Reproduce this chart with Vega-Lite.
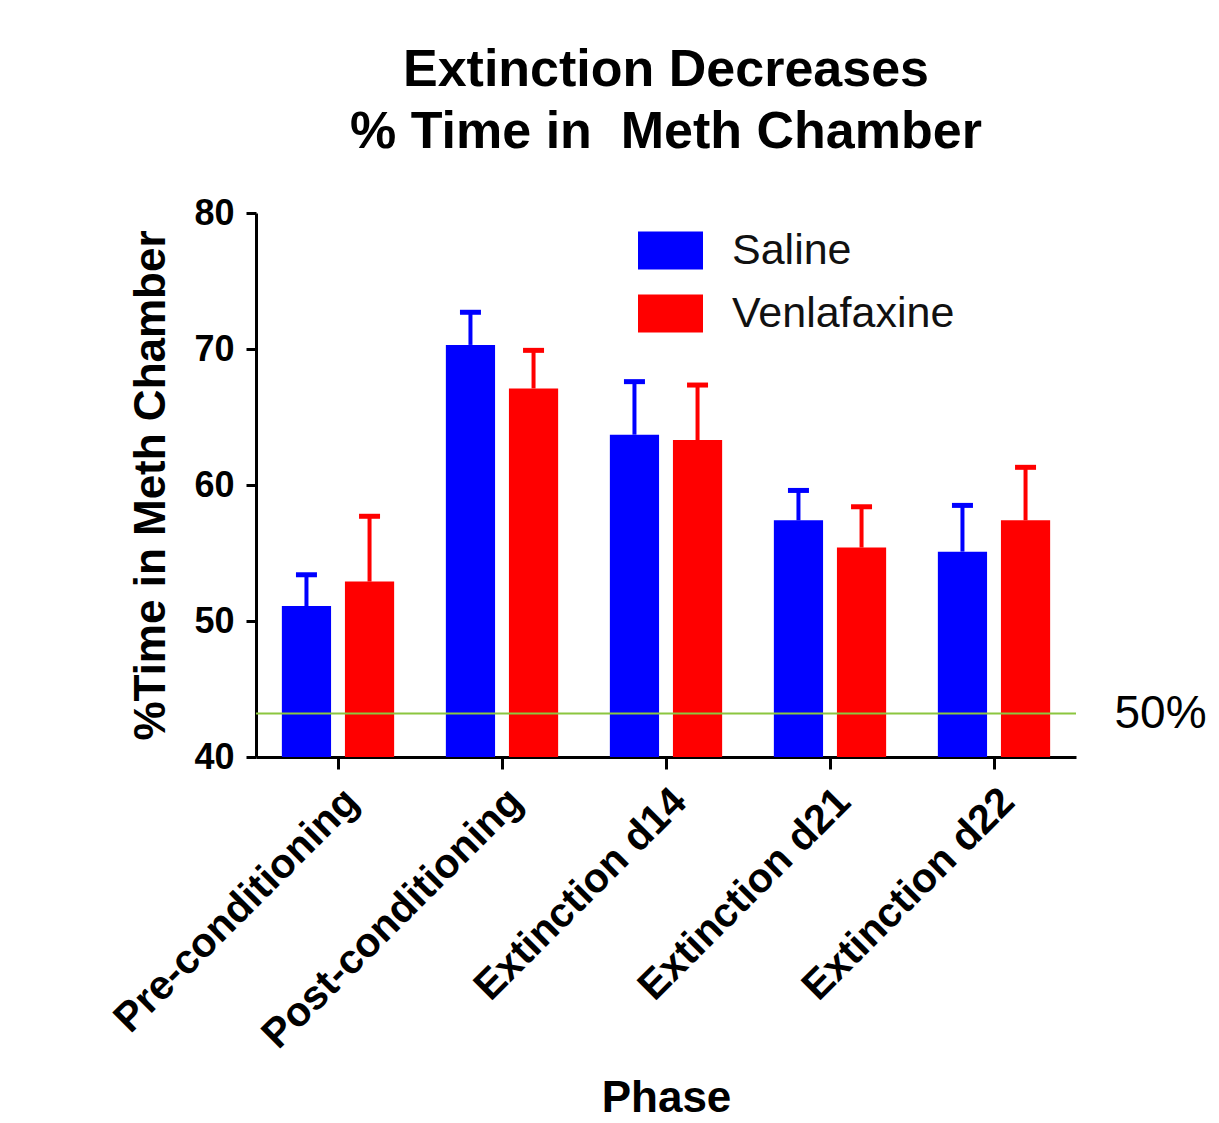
{
  "$schema": "https://vega.github.io/schema/vega-lite/v6.json",
  "width": 820,
  "height": 544,
  "autosize": "none",
  "padding": {"left": 256, "top": 213, "right": 143, "bottom": 366},
  "background": "#ffffff",
  "title": {
    "text": ["Extinction Decreases", "% Time in\u00a0 Meth Chamber"],
    "font": "Liberation Sans",
    "fontSize": 52,
    "fontWeight": "bold",
    "color": "#000000",
    "anchor": "middle",
    "frame": "group",
    "lineHeight": 62,
    "offset": 36
  },
  "config": {
    "view": {"stroke": null},
    "axis": {
      "domainColor": "#000000",
      "domainWidth": 3,
      "tickColor": "#000000",
      "tickWidth": 3,
      "labelFont": "Liberation Sans",
      "labelFontWeight": "bold",
      "labelColor": "#000000",
      "labelLimit": 0,
      "titleFont": "Liberation Sans",
      "titleFontWeight": "bold",
      "titleColor": "#000000",
      "titleFontSize": 44,
      "grid": false
    },
    "legend": {
      "labelFont": "Liberation Sans",
      "labelFontSize": 43,
      "labelColor": "#111111",
      "labelLimit": 0
    }
  },
  "layer": [
    {
      "data": {
        "values": [
          {"phase": "Pre-conditioning", "group": "Saline", "value": 51.1, "upper": 53.4},
          {"phase": "Pre-conditioning", "group": "Venlafaxine", "value": 52.9, "upper": 57.7},
          {"phase": "Post-conditioning", "group": "Saline", "value": 70.3, "upper": 72.7},
          {"phase": "Post-conditioning", "group": "Venlafaxine", "value": 67.1, "upper": 69.9},
          {"phase": "Extinction d14", "group": "Saline", "value": 63.7, "upper": 67.6},
          {"phase": "Extinction d14", "group": "Venlafaxine", "value": 63.3, "upper": 67.35},
          {"phase": "Extinction d21", "group": "Saline", "value": 57.4, "upper": 59.6},
          {"phase": "Extinction d21", "group": "Venlafaxine", "value": 55.4, "upper": 58.4},
          {"phase": "Extinction d22", "group": "Saline", "value": 55.1, "upper": 58.5},
          {"phase": "Extinction d22", "group": "Venlafaxine", "value": 57.4, "upper": 61.3}
        ]
      },
      "encoding": {
        "x": {
          "field": "phase",
          "type": "nominal",
          "sort": null,
          "scale": {"paddingInner": 0, "paddingOuter": 0},
          "axis": {
            "title": "Phase",
            "labelAngle": -45,
            "labelFontSize": 41,
            "tickSize": 12,
            "labelPadding": 12,
            "titlePadding": 119
          }
        },
        "xOffset": {
          "field": "group",
          "type": "nominal",
          "scale": {"paddingInner": 0.22, "paddingOuter": 0.41}
        },
        "color": {
          "field": "group",
          "type": "nominal",
          "scale": {"domain": ["Saline", "Venlafaxine"], "range": ["#0000ff", "#ff0000"]},
          "legend": {
            "title": null,
            "orient": "none",
            "legendX": 382,
            "legendY": 5,
            "padding": 0,
            "rowPadding": 8,
            "symbolType": "M-1,-0.585H1V0.585H-1Z",
            "symbolSize": 4225,
            "symbolOpacity": 1,
            "symbolStrokeWidth": 0,
            "labelOffset": 29
          }
        }
      },
      "layer": [
        {
          "mark": {"type": "bar", "opacity": 1, "clip": true},
          "encoding": {
            "y": {
              "field": "value",
              "type": "quantitative",
              "scale": {"domain": [40, 80], "zero": false, "nice": false},
              "axis": {
                "title": "%Time in Meth Chamber",
                "values": [40, 50, 60, 70, 80],
                "labelFontSize": 36,
                "tickSize": 10,
                "labelPadding": 12,
                "titlePadding": 20
              }
            }
          }
        },
        {
          "mark": {"type": "rule", "strokeWidth": 4},
          "encoding": {
            "y": {"field": "value", "type": "quantitative"},
            "y2": {"field": "upper"}
          }
        },
        {
          "mark": {"type": "tick", "orient": "horizontal", "thickness": 5, "size": 21, "opacity": 1},
          "encoding": {
            "y": {"field": "upper", "type": "quantitative"}
          }
        }
      ]
    },
    {
      "data": {"values": [{"ref": 43.2, "label": "50%"}]},
      "mark": {"type": "rule", "color": "#8cc63f", "strokeWidth": 2},
      "encoding": {
        "y": {
          "field": "ref",
          "type": "quantitative",
          "scale": {"domain": [40, 80], "zero": false, "nice": false},
          "axis": {
            "orient": "right",
            "title": null,
            "values": [43.2],
            "labelExpr": "'50%'",
            "domain": false,
            "ticks": false,
            "labelPadding": 38,
            "labelFontSize": 46,
            "labelFontWeight": "normal",
            "labelColor": "#000000"
          }
        }
      }
    }
  ],
  "resolve": {"scale": {"y": "independent"}}
}
